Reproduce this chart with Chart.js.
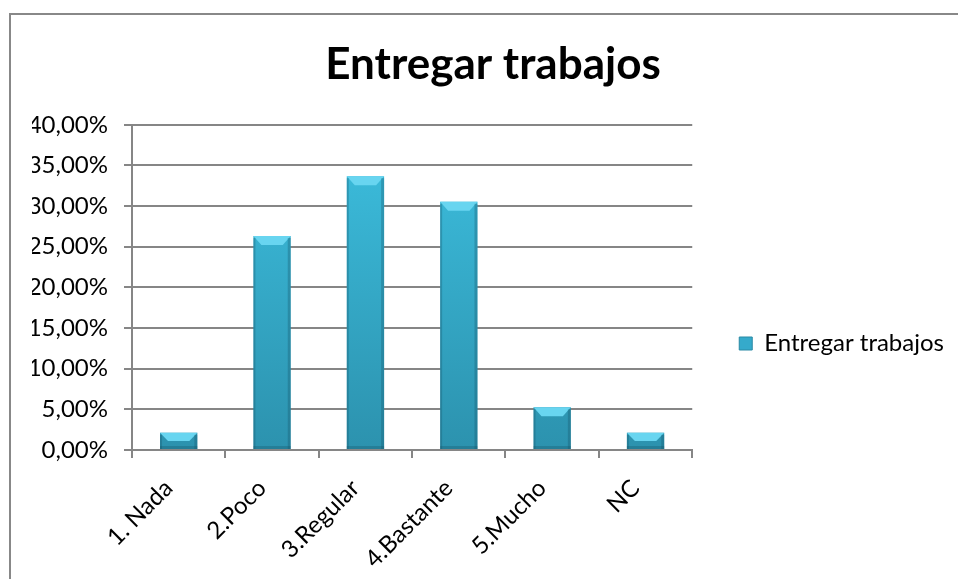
<!DOCTYPE html>
<html>
<head>
<meta charset="utf-8">
<script src="https://cdn.jsdelivr.net/npm/chart.js@4"></script>
<style>
  html, body { margin: 0; padding: 0; background: #fff; }
  #wrap { position: relative; width: 958px; height: 579px; overflow: hidden; }
  #frame { position: absolute; left: 9px; top: 13px; width: 1000px; height: 600px;
           border-left: 2px solid #888; border-top: 2px solid #888; }
  canvas { position: absolute; left: 0; top: 0; }
</style>
</head>
<body>
<div id="wrap">
  <div id="frame"></div>
  <canvas id="chart" width="958" height="579"></canvas>
</div>
<script>
const categories = ["1. Nada", "2.Poco", "3.Regular", "4.Bastante", "5.Mucho", "NC"];
const valores = [2.11, 26.32, 33.68, 30.53, 5.26, 2.11];
const serieNombre = "Entregar trabajos";

const FONT = "Lato, 'DejaVu Sans', sans-serif";

// bevel cap on the top of each bar, using the bar elements the library placed
const bevel = {
  id: "bevel",
  afterDatasetsDraw(chart) {
    const ctx = chart.ctx;
    for (const bar of chart.getDatasetMeta(0).data) {
      const w = bar.width, l = bar.x - w / 2, r = bar.x + w / 2, t = bar.y;
      const h = Math.min(9, (bar.base - t) / 2);
      ctx.save();
      ctx.fillStyle = "#68d5f0";
      ctx.beginPath();
      ctx.moveTo(l, t); ctx.lineTo(r, t);
      ctx.lineTo(r - 8, t + h); ctx.lineTo(l + 8, t + h);
      ctx.closePath(); ctx.fill();
      ctx.fillStyle = "rgba(20,80,100,0.30)";
      ctx.fillRect(r - 3, t + 2, 3, bar.base - t - 2);
      ctx.fillRect(l, t + 2, 2, bar.base - t - 2);
      ctx.fillRect(l, bar.base - 3, w, 3);
      ctx.restore();
    }
  }
};

function barFill(c) {
  const area = c.chart.chartArea;
  if (!area) return "#35aacb";
  const g = c.chart.ctx.createLinearGradient(0, area.top, 0, area.bottom);
  g.addColorStop(0, "#3dc0e0");
  g.addColorStop(1, "#2c92ae");
  return g;
}

new Chart(document.querySelector("#chart").getContext("2d"), {
  type: "bar",
  data: {
    labels: categories,
    datasets: [{
      label: serieNombre,
      data: valores,
      backgroundColor: barFill,
      borderWidth: 0,
      barPercentage: 0.4,
      categoryPercentage: 1
    }]
  },
  options: {
    responsive: false,
    animation: false,
    layout: { padding: { left: 32, right: 4, top: 0, bottom: 3 } },
    plugins: {
      title: {
        display: true,
        text: "Entregar trabajos",
        color: "#000",
        font: { family: FONT, size: 44, weight: "bold" },
        padding: { top: 38, bottom: 34 }
      },
      legend: {
        position: "right",
        maxWidth: 320,
        title: { display: true, text: " ", font: { size: 10 }, padding: { top: 99, bottom: 0 } },
        labels: {
          color: "#000",
          font: { family: FONT, size: 24 },
          boxWidth: 13,
          boxHeight: 13,
          padding: 47,
          generateLabels(chart) {
            return [{ text: serieNombre, fillStyle: "#35aacb", strokeStyle: "#2a8aa5", fontColor: "#000", lineWidth: 1, datasetIndex: 0 }];
          }
        }
      },
      tooltip: { enabled: false }
    },
    scales: {
      x: {
        afterFit: s => { s.paddingLeft = 0; s.paddingRight = 0; s.height = 126; },
        grid: { display: true, drawOnChartArea: false, color: "#868686", lineWidth: 2, tickLength: 8, offset: true },
        border: { color: "#868686", width: 2 },
        ticks: { color: "#000", font: { family: FONT, size: 24 }, maxRotation: 45, minRotation: 45, padding: 16, labelOffset: -10 }
      },
      y: {
        min: 0,
        max: 40,
        afterFit: s => { s.width = 100; s.paddingTop = 0; s.paddingBottom = 0; },
        grid: { color: "#868686", lineWidth: 2, tickLength: 8 },
        border: { color: "#868686", width: 2 },
        ticks: {
          stepSize: 5,
          color: "#000",
          font: { family: FONT, size: 24 },
          padding: 16,
          callback: v => v.toFixed(2).replace(".", ",") + "%"
        }
      }
    }
  },
  plugins: [bevel]
});
</script>
</body>
</html>
